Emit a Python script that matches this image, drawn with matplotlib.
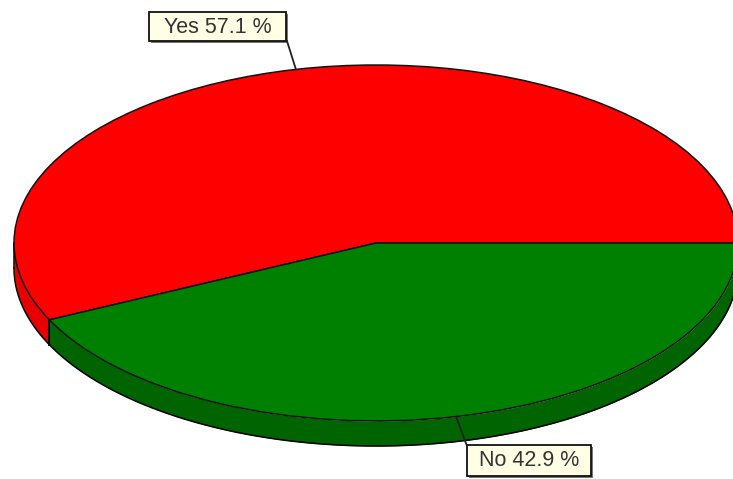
import numpy as np
import matplotlib
matplotlib.use('Agg')
from matplotlib import pyplot as plt
from matplotlib.patches import Rectangle

# data
labels = ['Yes', 'No']
values = [57.1, 42.9]
top_colors = ['#FF0000', '#008000']
wall_colors = ['#E60000', '#006400']

# pie geometry in image pixels
W, H = 733, 479
cx, cy = 376, 243
rx, ry = 362, 178
depth = 25 / ry

# label boxes: left, top, right, bottom (px)
boxes = [(149, 12, 286, 41), (467, 445, 591, 476)]
leader_ends = [(287, 41), (467, 446)]

fig = plt.figure(figsize=(W / 100, H / 100), dpi=100, facecolor='white')
ax = fig.add_axes([0, 0, 1, 1])

# front wall, only the part of each slice on the lower half of the ellipse
edges = np.cumsum([0] + values) / sum(values) * 360
for i in range(len(values)):
    a0, a1 = max(edges[i], 180), min(edges[i + 1], 360)
    if a1 <= a0:
        continue
    t = np.radians(np.linspace(a0, a1, 200))
    x = np.cos(t)
    y = np.sin(t)
    ax.fill_between(x, y, y - depth, color=wall_colors[i], linewidth=0)
    ax.plot(x, y - depth, color='black', lw=1.1)
    ax.plot([x[0], x[0]], [y[0], y[0] - depth], color='black', lw=1.1)
    ax.plot([x[-1], x[-1]], [y[-1], y[-1] - depth], color='black', lw=1.1)

# top of the pie
ax.pie(values, colors=top_colors, startangle=0, counterclock=True, radius=1,
       wedgeprops={'edgecolor': '#111111', 'linewidth': 1.1})
ax.set_aspect('auto')
ax.set_xlim(-cx / rx, (W - cx) / rx)
ax.set_ylim(-(H - cy) / ry, cy / ry)
ax.axis('off')

# overlay in pixel coordinates for the label boxes
ov = fig.add_axes([0, 0, 1, 1])
ov.set_xlim(0, W)
ov.set_ylim(H, 0)
ov.axis('off')
ov.patch.set_alpha(0)

mids = (edges[:-1] + edges[1:]) / 2
for i, lab in enumerate(labels):
    l, t, r, b = boxes[i]
    a = np.radians(mids[i])
    px = cx + rx * np.cos(a)
    py = cy - ry * np.sin(a)
    ov.plot([leader_ends[i][0], px], [leader_ends[i][1], py], color='#222222', lw=1.3)
    ov.add_patch(Rectangle((l + 1.5, t + 1.5), r - l, b - t, fc='#777777', ec='none'))
    ov.add_patch(Rectangle((l, t), r - l, b - t, fc='#FFFFE6', ec='#111111', lw=1.3))
    ov.text((l + r) / 2, (t + b) / 2 + 0.5, '%s %.1f %%' % (lab, values[i]),
            family='Liberation Sans', fontsize=15.5, color='#333333',
            ha='center', va='center')

fig.savefig('out.png', dpi=100)
